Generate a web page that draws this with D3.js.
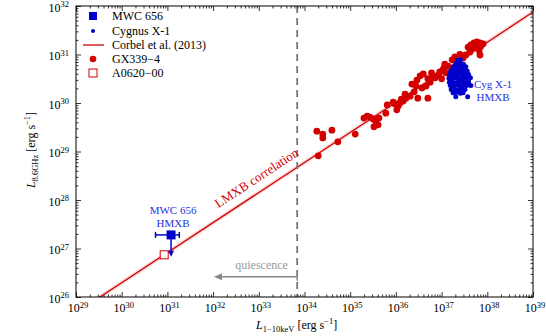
<!DOCTYPE html>
<html>
<head>
<meta charset="utf-8">
<script src="https://cdn.jsdelivr.net/npm/d3@7"></script>
<style>
  body { margin: 0; background: white; }
</style>
</head>
<body>
<div id="chart"></div>
<script>
// log10 values
var xDecades = [29, 30, 31, 32, 33, 34, 35, 36, 37, 38, 39];
var yDecades = [26, 27, 28, 29, 30, 31, 32];

// GX339-4 : [log Lx, log Lr]
var gx339 = [
  [34.30, 28.91], [34.27, 29.42], [34.40, 29.36], [34.40, 29.28], [34.60, 29.44],
  [34.73, 29.20], [35.11, 29.36], [35.30, 29.69], [35.37, 29.73], [35.43, 29.71],
  [35.50, 29.67], [35.56, 29.63], [35.63, 29.69], [35.52, 29.51], [35.61, 29.55],
  [35.78, 29.79], [35.81, 29.96], [35.94, 30.02], [36.02, 29.86], [36.05, 29.94],
  [35.98, 29.98], [36.09, 30.00], [36.16, 30.04], [36.22, 30.10], [36.31, 30.14],
  [36.40, 30.23], [36.46, 30.47], [36.53, 30.56], [36.35, 30.39], [36.44, 30.35],
  [36.57, 30.31], [36.66, 30.35], [36.75, 30.43], [36.86, 30.52], [36.96, 30.64],
  [37.03, 30.68], [37.07, 30.80], [37.14, 30.76], [37.23, 30.89], [37.29, 30.95],
  [37.47, 30.93], [37.53, 30.99], [37.58, 31.15], [37.64, 31.20], [37.71, 31.24],
  [37.77, 31.26], [37.84, 31.24], [37.91, 31.22], [37.82, 31.09], [37.84, 30.99],
  [37.69, 31.13], [36.70, 30.10], [36.48, 30.10], [36.81, 30.54], [36.90, 30.56],
  [36.20, 30.18], [36.12, 30.08], [36.60, 30.60], [36.70, 30.50], [37.00, 30.50],
  [37.10, 30.62], [37.40, 31.00], [37.62, 31.05], [37.75, 31.18], [37.86, 31.17],
  [36.94, 30.58], [36.78, 30.62], [37.05, 30.72]
];

// Cygnus X-1
var cygx1 = [
  [37.35, 30.88], [37.41, 30.89],
  [37.31, 30.81], [37.37, 30.82], [37.43, 30.81], [37.48, 30.80],
  [37.25, 30.74], [37.31, 30.73], [37.37, 30.75], [37.43, 30.74], [37.49, 30.73], [37.53, 30.75],
  [37.20, 30.66], [37.26, 30.67], [37.32, 30.66], [37.38, 30.68], [37.44, 30.66], [37.50, 30.67], [37.56, 30.66],
  [37.17, 30.58], [37.23, 30.59], [37.29, 30.57], [37.35, 30.58], [37.41, 30.60], [37.47, 30.58], [37.53, 30.57], [37.59, 30.59],
  [37.16, 30.51], [37.22, 30.50], [37.28, 30.52], [37.34, 30.51], [37.40, 30.50], [37.46, 30.52], [37.52, 30.51], [37.58, 30.50], [37.63, 30.52],
  [37.17, 30.43], [37.23, 30.44], [37.29, 30.42], [37.35, 30.43], [37.41, 30.45], [37.47, 30.43], [37.53, 30.42], [37.59, 30.44],
  [37.19, 30.36], [37.25, 30.35], [37.31, 30.37], [37.37, 30.36], [37.43, 30.35], [37.49, 30.37], [37.55, 30.36],
  [37.21, 30.28], [37.27, 30.29], [37.33, 30.27], [37.39, 30.28], [37.45, 30.29], [37.51, 30.28],
  [37.25, 30.21], [37.33, 30.22], [37.41, 30.20], [37.47, 30.21],
  [37.57, 30.13], [37.31, 30.13], [37.64, 30.36]
];

// MWC 656 and A0620-00
var mwc656 = { x: 31.08, y: 27.28, xlo: 30.74, xhi: 31.26, ylim: 26.83 };
var a0620 = { x: 30.93, y: 26.87 };

// Corbel et al. (2013) : log Lr = 26 + slope * (log Lx - 29.525)
var corbelX = [29.3, 39.0];
var corbelSlope = 0.62;
var quiescence = 33.84;

var W = 546, H = 336;
var m = { left: 76, right: 13, top: 6, bottom: 39 };

var svg = d3.select("#chart").append("svg")
  .attr("width", W).attr("height", H)
  .attr("font-family", "'Liberation Serif', 'Times New Roman', serif")
  .style("background", "white");

var x = d3.scaleLog().domain([1e29, 1e39]).range([m.left, W - m.right]);
var y = d3.scaleLog().domain([1e26, 1e32]).range([H - m.bottom, m.top]);
var p = function(v) { return Math.pow(10, v); };
var corbel = function(lx) { return 26 + corbelSlope * (lx - 29.525); };

var blue = "#0000cc", red = "#d40000", grey = "#777777";

// clip to plot area
svg.append("clipPath").attr("id", "clip").append("rect")
  .attr("x", m.left).attr("y", m.top)
  .attr("width", W - m.left - m.right).attr("height", H - m.top - m.bottom);
var plot = svg.append("g").attr("clip-path", "url(#clip)");

// ticks
var majorX = xDecades.map(p), majorY = yDecades.map(p);
var minorX = [], minorY = [];
xDecades.slice(0, -1).forEach(function(d) { for (var k = 2; k < 10; k++) minorX.push(k * p(d)); });
yDecades.slice(0, -1).forEach(function(d) { for (var k = 2; k < 10; k++) minorY.push(k * p(d)); });

function ticks(axis, vals, size, tr) {
  var g = svg.append("g").attr("transform", tr)
    .call(axis.tickValues(vals).tickSize(size).tickSizeOuter(0).tickFormat(""));
  g.select(".domain").remove();
  g.selectAll("line").attr("stroke", "#000").attr("stroke-width", 0.8);
}
ticks(d3.axisBottom(x), majorX, -5, "translate(0," + (H - m.bottom) + ")");
ticks(d3.axisBottom(x), minorX, -2.5, "translate(0," + (H - m.bottom) + ")");
ticks(d3.axisTop(x), majorX, -5, "translate(0," + m.top + ")");
ticks(d3.axisTop(x), minorX, -2.5, "translate(0," + m.top + ")");
ticks(d3.axisLeft(y), majorY, -5, "translate(" + m.left + ",0)");
ticks(d3.axisLeft(y), minorY, -2.5, "translate(" + m.left + ",0)");
ticks(d3.axisRight(y), majorY, -5, "translate(" + (W - m.right) + ",0)");
ticks(d3.axisRight(y), minorY, -2.5, "translate(" + (W - m.right) + ",0)");

// tick labels 10^n
function powLabel(sel, n) {
  sel.append("tspan").text("10");
  sel.append("tspan").attr("dy", -4.5).style("font-size", "8.5px").text(n);
}
xDecades.forEach(function(d) {
  var t = svg.append("text").attr("x", x(p(d)) + 2).attr("y", H - m.bottom + 15)
    .attr("text-anchor", "middle").style("font-size", "12px");
  powLabel(t, d);
});
yDecades.forEach(function(d) {
  var t = svg.append("text").attr("x", m.left - 7).attr("y", y(p(d)) + 5.5)
    .attr("text-anchor", "end").style("font-size", "12px");
  powLabel(t, d);
});

// axis titles
var xt = svg.append("text").attr("x", 256).attr("y", H - 7).style("font-size", "12px");
xt.append("tspan").style("font-style", "italic").text("L");
xt.append("tspan").attr("dy", 3).style("font-size", "8.5px").text("1\u221210keV");
xt.append("tspan").attr("dy", -3).text(" [erg s");
xt.append("tspan").attr("dy", -5).style("font-size", "8.5px").text("\u22121");
xt.append("tspan").attr("dy", 5).text("]");

var yt = svg.append("text").attr("transform", "translate(35," + 150 + ") rotate(-90)")
  .attr("text-anchor", "middle").style("font-size", "12px");
yt.append("tspan").style("font-style", "italic").text("L");
yt.append("tspan").attr("dy", 3).style("font-size", "8.5px").text("8.6GHz");
yt.append("tspan").attr("dy", -3).text(" [erg s");
yt.append("tspan").attr("dy", -5).style("font-size", "8.5px").text("\u22121");
yt.append("tspan").attr("dy", 5).text("]");

// Corbel correlation with faint band
var band = d3.area()
  .x(function(d) { return x(p(d)); })
  .y0(function(d) { return y(p(corbel(d) - 0.05)); })
  .y1(function(d) { return y(p(corbel(d) + 0.05)); });
plot.append("path").datum(corbelX).attr("d", band)
  .attr("fill", red).attr("opacity", 0.15);
plot.append("line")
  .attr("x1", x(p(corbelX[0]))).attr("y1", y(p(corbel(corbelX[0]))))
  .attr("x2", x(p(corbelX[1]))).attr("y2", y(p(corbel(corbelX[1]))))
  .attr("stroke", red).attr("stroke-width", 1.3);

// quiescence line
plot.append("line")
  .attr("x1", x(p(quiescence))).attr("x2", x(p(quiescence)))
  .attr("y1", m.top).attr("y2", H - m.bottom)
  .attr("stroke", grey).attr("stroke-width", 1.8).attr("stroke-dasharray", "7,5");

var qy = y(p(26.42)), qx0 = x(p(quiescence)), qx1 = x(p(32.02));
plot.append("line").attr("x1", qx0).attr("x2", qx1 + 6).attr("y1", qy).attr("y2", qy)
  .attr("stroke", "#888").attr("stroke-width", 1.5);
plot.append("line").attr("x1", qx0).attr("x2", qx0).attr("y1", qy - 4).attr("y2", qy + 4)
  .attr("stroke", "#888").attr("stroke-width", 1.5);
plot.append("path")
  .attr("d", "M" + qx1 + "," + qy + "l8,-3.5l0,7z").attr("fill", "#888");
svg.append("text").attr("x", (qx0 + qx1) / 2 + 6).attr("y", qy - 8)
  .attr("text-anchor", "middle").attr("fill", "#999").style("font-size", "12px")
  .text("quiescence");

// GX339-4
plot.append("g").selectAll("circle").data(gx339).enter().append("circle")
  .attr("cx", function(d) { return x(p(d[0])); })
  .attr("cy", function(d) { return y(p(d[1])); })
  .attr("r", 3.4).attr("fill", red);

// Cygnus X-1
plot.append("g").selectAll("circle").data(cygx1).enter().append("circle")
  .attr("cx", function(d) { return x(p(d[0])); })
  .attr("cy", function(d) { return y(p(d[1])); })
  .attr("r", 2.5).attr("fill", blue);

// A0620-00
plot.append("rect")
  .attr("x", x(p(a0620.x)) - 4).attr("y", y(p(a0620.y)) - 4)
  .attr("width", 8).attr("height", 8)
  .attr("fill", "white").attr("stroke", red).attr("stroke-width", 1);

// MWC 656 with x error bar and upper limit arrow
var mx = x(p(mwc656.x)), my = y(p(mwc656.y));
plot.append("line").attr("x1", x(p(mwc656.xlo))).attr("x2", x(p(mwc656.xhi)))
  .attr("y1", my).attr("y2", my).attr("stroke", blue).attr("stroke-width", 1.5);
[mwc656.xlo, mwc656.xhi].forEach(function(v) {
  plot.append("line").attr("x1", x(p(v))).attr("x2", x(p(v)))
    .attr("y1", my - 3).attr("y2", my + 3).attr("stroke", blue).attr("stroke-width", 1.5);
});
var ay = y(p(mwc656.ylim));
plot.append("line").attr("x1", mx).attr("x2", mx).attr("y1", my).attr("y2", ay - 5)
  .attr("stroke", blue).attr("stroke-width", 1.5);
plot.append("path").attr("d", "M" + mx + "," + ay + "l-3,-6l6,0z").attr("fill", blue);
plot.append("rect").attr("x", mx - 4.5).attr("y", my - 4.5)
  .attr("width", 9).attr("height", 9).attr("fill", blue);

// annotations
svg.append("text").attr("x", mx + 2).attr("y", my - 20.5).attr("text-anchor", "middle")
  .attr("fill", "#2233dd").style("font-size", "11px").text("MWC 656");
svg.append("text").attr("x", mx + 2).attr("y", my - 7.5).attr("text-anchor", "middle")
  .attr("fill", "#2233dd").style("font-size", "11px").text("HMXB");
svg.append("text").attr("x", 493).attr("y", 87.5).attr("text-anchor", "middle")
  .attr("fill", "#2233dd").style("font-size", "11px").text("Cyg X-1");
svg.append("text").attr("x", 493).attr("y", 100.5).attr("text-anchor", "middle")
  .attr("fill", "#2233dd").style("font-size", "11px").text("HMXB");

var ang = -Math.atan(corbelSlope * (y(1e26) - y(1e27)) / (x(1e30) - x(1e29))) * 180 / Math.PI;
var lx0 = 33.11, lpx = x(p(lx0)), lpy = y(p(corbel(lx0)));
svg.append("text")
  .attr("transform", "translate(" + lpx + "," + lpy + ") rotate(" + ang + ")")
  .attr("x", 0).attr("y", -9).attr("text-anchor", "middle")
  .attr("fill", red).style("font-size", "13px").text("LMXB correlation");

// frame
svg.append("rect").attr("x", m.left).attr("y", m.top)
  .attr("width", W - m.left - m.right).attr("height", H - m.top - m.bottom)
  .attr("fill", "none").attr("stroke", "#000").attr("stroke-width", 1);

// legend
var lg = svg.append("g");
var rows = [16, 31, 45, 59, 73];
var names = ["MWC 656", "Cygnus X-1", "Corbel et al. (2013)", "GX339\u22124", "A0620\u221200"];
lg.append("rect").attr("x", 89).attr("y", rows[0] - 4).attr("width", 8).attr("height", 8).attr("fill", blue);
lg.append("circle").attr("cx", 93).attr("cy", rows[1]).attr("r", 2).attr("fill", blue);
lg.append("line").attr("x1", 83).attr("x2", 104).attr("y1", rows[2]).attr("y2", rows[2])
  .attr("stroke", red).attr("stroke-width", 1.3);
lg.append("circle").attr("cx", 93).attr("cy", rows[3]).attr("r", 3.3).attr("fill", red);
lg.append("rect").attr("x", 89).attr("y", rows[4] - 4).attr("width", 8).attr("height", 8)
  .attr("fill", "white").attr("stroke", red).attr("stroke-width", 1);
names.forEach(function(n, i) {
  lg.append("text").attr("x", 112).attr("y", rows[i] + 4)
    .style("font-size", "12px").text(n);
});
</script>
</body>
</html>
